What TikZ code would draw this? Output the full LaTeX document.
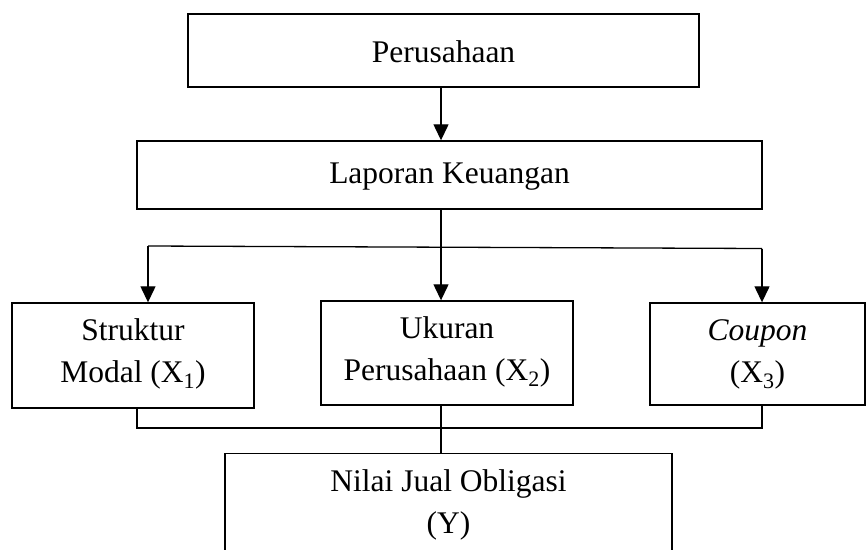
\documentclass[tikz,border=0pt]{standalone}
\usepackage{fontspec}
\setmainfont{Liberation Serif}
\usetikzlibrary{arrows.meta}
\begin{document}
\begin{tikzpicture}[x=1pt,y=-1pt,
  box/.style={draw, line width=1.4pt, inner sep=0pt},
  lbl/.style={inner sep=0pt, align=center, font=\fontsize{31.5}{42}\selectfont},
  link/.style={line width=1.3pt},
  arr/.style={line width=1.3pt, -{Triangle[length=16pt,width=15pt]}}]
\useasboundingbox (0,0) rectangle (866,549);
\clip (0,0) rectangle (866,549);
\node[box, minimum width=511pt, minimum height=73pt] (per) at (443.5,50.5) {};
\node[lbl] (pert) at (443.5,52) {Perusahaan};
\node[box, minimum width=625pt, minimum height=68pt] (lap) at (449.5,175) {};
\node[lbl] (lapt) at (449.5,177) {Laporan Keuangan};
\node[box, minimum width=242pt, minimum height=105pt] (str) at (133,355.5) {};
\node[lbl] (strt) at (133,354) {Struktur\\Modal (X\textsubscript{1})};
\node[box, minimum width=252pt, minimum height=104pt] (uku) at (447,353) {};
\node[lbl] (ukut) at (447,352) {Ukuran\\Perusahaan (X\textsubscript{2})};
\node[box, minimum width=215pt, minimum height=102pt] (cou) at (757.5,354) {};
\node[lbl] (cout) at (757.5,354) {\textit{Coupon}\\(X\textsubscript{3})};
\node[box, minimum width=447pt, minimum height=140pt, anchor=north] (nil) at (448.5,453) {};
\node[lbl] (nilt) at (448.5,505) {Nilai Jual Obligasi\\(Y)};
\coordinate (j) at (441,247);
\coordinate (jl) at (148,246);
\coordinate (jr) at (762,248.5);
\coordinate (bl) at (137,428);
\coordinate (br) at (762,428);
\coordinate (bj) at (441,428);
\draw[arr] (per.south -| j) -- (lap.north -| j);
\draw[link] (lap.south -| j) -- (j);
\draw[link] (jl) -- (jr);
\draw[arr] (jl) -- (jl |- str.north);
\draw[arr] (j) -- (j |- uku.north);
\draw[arr] (jr) -- (jr |- cou.north);
\draw[link] (str.south -| bl) -- (bl) -- (br) -- (cou.south -| br);
\draw[link] (uku.south -| bj) -- (nil.north -| bj);
\end{tikzpicture}
\end{document}
